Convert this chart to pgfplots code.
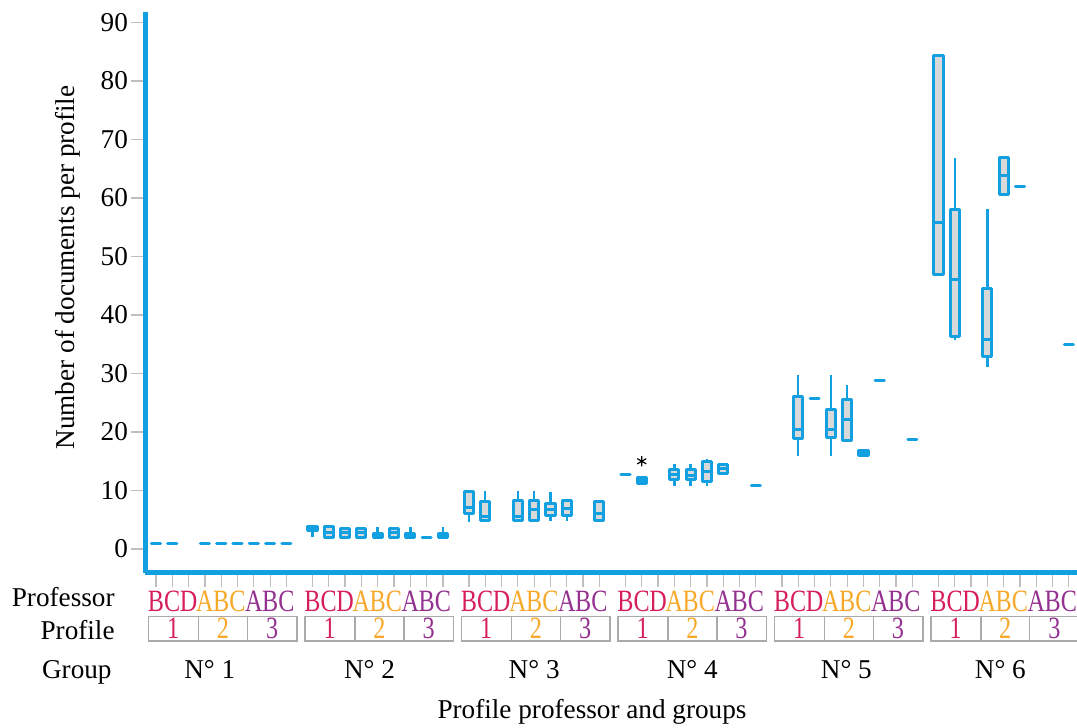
\documentclass[border=0pt]{standalone}
\usepackage{fontspec}
\setmainfont{Liberation Serif}
\usepackage{graphicx}
\usepackage{pgfplots}
\pgfplotsset{compat=1.18}
\usepgfplotslibrary{statistics}
\definecolor{boxblue}{RGB}{18,160,224}
\definecolor{boxfill}{RGB}{217,217,217}
\definecolor{pone}{RGB}{214,30,92}
\definecolor{ptwo}{RGB}{247,168,40}
\definecolor{pthree}{RGB}{148,48,143}
\definecolor{cellgray}{RGB}{170,170,170}
\newcommand{\tf}{\fontsize{13.6}{16}\selectfont}
\newcommand{\lf}[1]{\scalebox{0.78}[1]{\fontsize{15.5}{15.5}\selectfont #1}}
\newcommand{\PA}[1]{\textcolor{pone}{\lf{#1}}}
\newcommand{\PB}[1]{\textcolor{ptwo}{\lf{#1}}}
\newcommand{\PC}[1]{\textcolor{pthree}{\lf{#1}}}
\newcommand{\bx}[6]{\addplot[bxs, boxplot prepared={draw position=#1, lower whisker=#2, lower quartile=#3, median=#4, upper quartile=#5, upper whisker=#6}] coordinates {};}
\begin{document}
\begin{tikzpicture}
\begin{axis}[
  at={(72.5pt,77.5pt)}, anchor=south west,
  scale only axis, width=466pt, height=280.5pt,
  xmin=-0.675, xmax=56.5, ymin=-4.1, ymax=91.8,
  clip=false,
  axis x line*=bottom, axis y line*=left,
  axis line style={draw=boxblue, line width=2.5pt, -},
  tick align=outside, major tick length=7pt,
  tick style={draw=gray!50, line width=0.6pt},
  ytick={0,10,...,90},
  xtick={0,1,2,3,4,5,6,7,8,
         9.6,10.6,11.6,12.6,13.6,14.6,15.6,16.6,17.6,
         19.2,20.2,21.2,22.2,23.2,24.2,25.2,26.2,27.2,
         28.8,29.8,30.8,31.8,32.8,33.8,34.8,35.8,36.8,
         38.4,39.4,40.4,41.4,42.4,43.4,44.4,45.4,46.4,
         48,49,50,51,52,53,54,55,56},
  xticklabels={\PA{B},\PA{C},\PA{D},\PB{A},\PB{B},\PB{C},\PC{A},\PC{B},\PC{C},
               \PA{B},\PA{C},\PA{D},\PB{A},\PB{B},\PB{C},\PC{A},\PC{B},\PC{C},
               \PA{B},\PA{C},\PA{D},\PB{A},\PB{B},\PB{C},\PC{A},\PC{B},\PC{C},
               \PA{B},\PA{C},\PA{D},\PB{A},\PB{B},\PB{C},\PC{A},\PC{B},\PC{C},
               \PA{B},\PA{C},\PA{D},\PB{A},\PB{B},\PB{C},\PC{A},\PC{B},\PC{C},
               \PA{B},\PA{C},\PA{D},\PB{A},\PB{B},\PB{C},\PC{A},\PC{B},\PC{C}},
  /pgf/number format/assume math mode=true,
  yticklabel style={font=\tf, text=black, xshift=2pt},
  xticklabel style={anchor=base, yshift=-12.5pt, inner sep=0pt},
  boxplot/draw direction=y,
  boxplot/box extend=0.56, boxplot/whisker extend=0,
  boxplot/every whisker/.style={line width=1.2pt},
  bxs/.style={draw=boxblue, fill=boxfill, line width=1.5pt, line join=round, solid, mark=none},
]
% Group 1
\bx{0}{1}{1}{1}{1}{1}
\bx{1}{1}{1}{1}{1}{1}
\bx{3}{1}{1}{1}{1}{1}
\bx{4}{1}{1}{1}{1}{1}
\bx{5}{1}{1}{1}{1}{1}
\bx{6}{1}{1}{1}{1}{1}
\bx{7}{1}{1}{1}{1}{1}
\bx{8}{1}{1}{1}{1}{1}
% Group 2
\bx{9.6}{2}{3.2}{3.55}{3.9}{3.9}
\bx{10.6}{2}{2}{2.9}{3.85}{3.85}
\bx{11.6}{2}{2}{2.75}{3.55}{3.55}
\bx{12.6}{2}{2}{2.75}{3.55}{3.55}
\bx{13.6}{2}{2}{2.3}{2.6}{3.7}
\bx{14.6}{2}{2}{2.75}{3.55}{3.55}
\bx{15.6}{2}{2}{2.3}{2.6}{3.7}
\bx{16.6}{2}{2}{2}{2}{2}
\bx{17.6}{2}{2}{2.3}{2.6}{3.7}
% Group 3
\bx{19.2}{4.7}{6.07}{7.13}{9.83}{9.83}
\bx{20.2}{4.92}{4.92}{5.5}{8.1}{10}
\bx{22.2}{4.92}{4.92}{5.64}{8.24}{10}
\bx{23.2}{4.92}{4.92}{6.79}{8.24}{10}
\bx{24.2}{4.84}{5.78}{6.79}{7.83}{9.8}
\bx{25.2}{4.87}{5.68}{6.96}{8.24}{8.24}
\bx{27.2}{4.92}{4.92}{6.15}{8.1}{8.1}
% Group 4
\bx{28.8}{12.8}{12.8}{12.8}{12.8}{12.8}
\addplot[bxs, boxplot prepared={draw position=29.8, lower whisker=11.2, lower quartile=11.2, median=11.7, upper quartile=12.22, upper whisker=12.22}, mark=asterisk, mark size=2.6pt, mark options={draw=black, line width=0.6pt}] coordinates {(29.8,15)};
\bx{31.8}{10.8}{11.93}{12.77}{13.54}{14.5}
\bx{32.8}{10.8}{11.93}{12.65}{13.54}{14.5}
\bx{33.8}{10.8}{11.59}{13.2}{14.96}{15.4}
\bx{34.8}{12.9}{12.9}{13.7}{14.5}{14.5}
\bx{36.8}{10.9}{10.9}{10.9}{10.9}{10.9}
% Group 5
\bx{39.4}{15.9}{18.9}{20.5}{26.1}{29.7}
\bx{40.4}{25.8}{25.8}{25.8}{25.8}{25.8}
\bx{41.4}{15.9}{19.1}{20.5}{23.9}{29.7}
\bx{42.4}{18.5}{18.5}{22.1}{25.5}{28.0}
\bx{43.4}{15.9}{15.9}{16.4}{16.9}{16.9}
\bx{44.4}{28.8}{28.8}{28.8}{28.8}{28.8}
\bx{46.4}{18.8}{18.8}{18.8}{18.8}{18.8}
% Group 6
\bx{48}{47.0}{47.0}{55.8}{84.4}{84.4}
\bx{49}{35.7}{36.3}{46.0}{58.1}{66.9}
\bx{51}{31.1}{32.9}{35.8}{44.6}{58.2}
\bx{52}{60.6}{60.6}{63.8}{67.0}{67.0}
\bx{53}{61.9}{61.9}{61.9}{61.9}{61.9}
\bx{56}{35.0}{35.0}{35.0}{35.0}{35.0}
% profile cells and group labels
\pgfplotsinvokeforeach{0,1,2,3,4,5}{
  \draw[cellgray, line width=0.75pt]
    ([yshift=-21.85pt]axis cs:{9.6*#1-0.47},-4.1) rectangle ([yshift=-34pt]axis cs:{9.6*#1+2.6},-4.1)
    ([yshift=-21.85pt]axis cs:{9.6*#1+2.6},-4.1) rectangle ([yshift=-34pt]axis cs:{9.6*#1+5.6},-4.1)
    ([yshift=-21.85pt]axis cs:{9.6*#1+5.6},-4.1) rectangle ([yshift=-34pt]axis cs:{9.6*#1+8.65},-4.1);
  \node[anchor=base, inner sep=0pt, text=pone] at ([yshift=-32.65pt]axis cs:{9.6*#1+1.06},-4.1) {\lf{1}};
  \node[anchor=base, inner sep=0pt, text=ptwo] at ([yshift=-32.65pt]axis cs:{9.6*#1+4.1},-4.1) {\lf{2}};
  \node[anchor=base, inner sep=0pt, text=pthree] at ([yshift=-32.65pt]axis cs:{9.6*#1+7.12},-4.1) {\lf{3}};
}
\node[anchor=base, inner sep=0pt, font=\tf] at ([yshift=-52.65pt]axis cs:3.3,-4.1) {N° 1};
\node[anchor=base, inner sep=0pt, font=\tf] at ([yshift=-52.65pt]axis cs:13.1,-4.1) {N° 2};
\node[anchor=base, inner sep=0pt, font=\tf] at ([yshift=-52.65pt]axis cs:23.2,-4.1) {N° 3};
\node[anchor=base, inner sep=0pt, font=\tf] at ([yshift=-52.65pt]axis cs:32.9,-4.1) {N° 4};
\node[anchor=base, inner sep=0pt, font=\tf] at ([yshift=-52.65pt]axis cs:42.35,-4.1) {N° 5};
\node[anchor=base, inner sep=0pt, font=\tf] at ([yshift=-52.65pt]axis cs:51.8,-4.1) {N° 6};
\end{axis}
\node[anchor=base east, inner sep=0pt, font=\tf] at (57.5pt,60.65pt) {Professor};
\node[anchor=base east, inner sep=0pt, font=\tf] at (57.5pt,44pt) {Profile};
\node[anchor=base east, inner sep=0pt, font=\tf] at (56pt,24.85pt) {Group};
\node[anchor=base, inner sep=0pt, font=\tf] at (296pt,4.5pt) {Profile professor and groups};
\node[anchor=base, inner sep=0pt, rotate=90, font=\tf] at (37.5pt,230.25pt) {Number of documents per profile};
\pgfresetboundingbox
\path[use as bounding box] (0,0) rectangle (538.5pt,364pt);
\end{tikzpicture}
\end{document}
